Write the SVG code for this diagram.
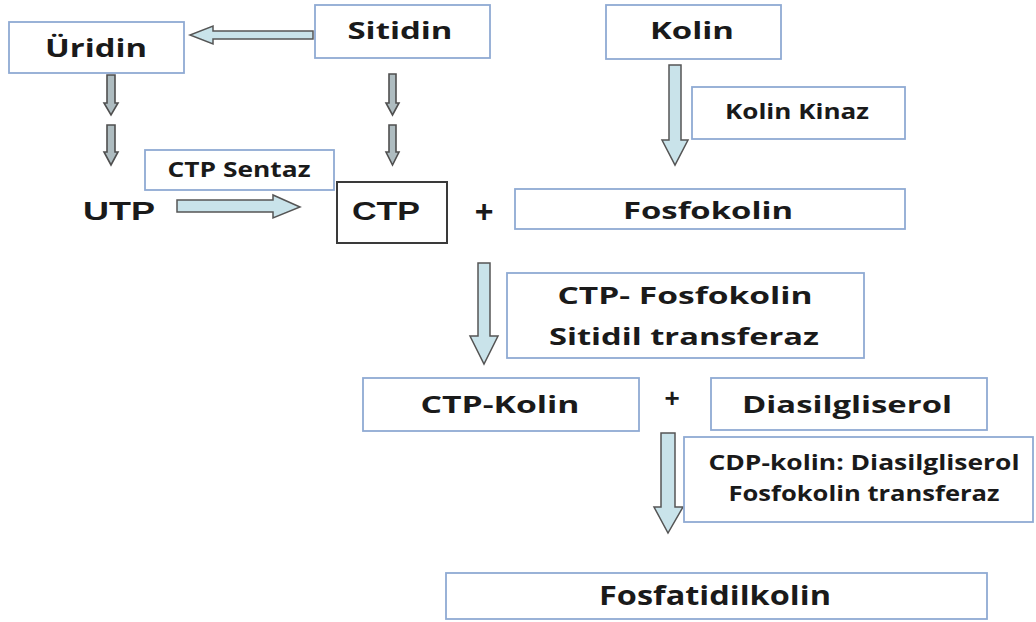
<svg xmlns="http://www.w3.org/2000/svg" width="1036" height="622" viewBox="0 0 1036 622">
<style>
.box{fill:#fff;stroke:#8faad3;stroke-width:1.8}
.ctpbox{fill:#fff;stroke:#3a3a3a;stroke-width:2}
.t{font-family:"Open Sans","Noto Sans",sans-serif;font-weight:700;fill:#1a1a1a;text-anchor:middle}
.a{font-family:"Liberation Sans",Arial,sans-serif;font-weight:700;fill:#1a1a1a;text-anchor:middle}
.arr{fill:#c9e3ea;stroke:#555;stroke-width:1.5;stroke-linejoin:miter}
.sarr{fill:#aebcc0;stroke:#4f4f4f;stroke-width:1.6}
</style>
<rect width="1036" height="622" fill="#fff"/>
<g id="connectors">
<path class="arr" d="M313,31 L213,31 L213,26 L190,35 L213,44 L213,39 L313,39 Z"/>
<path class="sarr" d="M107,75 L115,75 L115,103 L118,103 L111,115 L104,103 L107,103 Z"/>
<path class="sarr" d="M107,125 L115,125 L115,152 L118,152 L111,165 L104,152 L107,152 Z"/>
<path class="sarr" d="M389,74 L396,74 L396,103 L399,103 L392.5,115 L386,103 L389,103 Z"/>
<path class="sarr" d="M389,125 L396,125 L396,152 L399,152 L392.5,165 L386,152 L389,152 Z"/>
<path class="arr" d="M177,200 L273,200 L273,195 L300,207 L273,218 L273,212 L177,212 Z"/>
<path class="arr" d="M669,65 L681,65 L681,140 L688,140 L675,165 L662,140 L669,140 Z"/>
<path class="arr" d="M478,263 L490,263 L490,336 L498,336 L484,364 L470,336 L478,336 Z"/>
<path class="arr" d="M661,433 L675,433 L675,507 L683,507 L668,533 L654,507 L661,507 Z"/>
</g>
<g id="uridin"><rect class="box" x="9" y="22" width="175" height="51"/><text class="t" x="96" y="57" font-size="25" textLength="102" lengthAdjust="spacingAndGlyphs">Üridin</text></g>
<g id="sitidin"><rect class="box" x="315" y="5" width="175" height="53"/><text class="t" x="400" y="39" font-size="24" textLength="105" lengthAdjust="spacingAndGlyphs">Sitidin</text></g>
<g id="kolin"><rect class="box" x="606" y="5" width="175" height="54"/><text class="t" x="692" y="39" font-size="24" textLength="84" lengthAdjust="spacingAndGlyphs">Kolin</text></g>
<g id="kolin-kinaz"><rect class="box" x="692" y="87" width="213" height="52"/><text class="t" x="797" y="119" font-size="22" textLength="144" lengthAdjust="spacingAndGlyphs">Kolin Kinaz</text></g>
<g id="ctp-sentaz"><rect class="box" x="145" y="150" width="189" height="40"/><text class="t" x="239" y="177" font-size="21" textLength="143" lengthAdjust="spacingAndGlyphs">CTP Sentaz</text></g>
<g id="utp"><text class="a" x="119" y="220" font-size="25" textLength="72" lengthAdjust="spacingAndGlyphs">UTP</text></g>
<g id="ctp"><rect class="ctpbox" x="337" y="182" width="110" height="61"/><text class="a" x="386" y="220" font-size="25" textLength="68" lengthAdjust="spacingAndGlyphs">CTP</text></g>
<g id="plus1"><text class="a" x="484" y="222" font-size="32">+</text></g>
<g id="fosfokolin"><rect class="box" x="515" y="189" width="390" height="40"/><text class="t" x="708" y="219" font-size="24" textLength="170" lengthAdjust="spacingAndGlyphs">Fosfokolin</text></g>
<g id="ctp-fosfokolin-st"><rect class="box" x="507" y="273" width="357" height="85"/><text class="t" x="685" y="304" font-size="24" textLength="255" lengthAdjust="spacingAndGlyphs">CTP- Fosfokolin</text><text class="t" x="684" y="345" font-size="24" textLength="270" lengthAdjust="spacingAndGlyphs">Sitidil transferaz</text></g>
<g id="ctp-kolin"><rect class="box" x="363" y="378" width="276" height="53"/><text class="t" x="500" y="413" font-size="24" textLength="159" lengthAdjust="spacingAndGlyphs">CTP-Kolin</text></g>
<g id="plus2"><text class="a" x="672" y="407" font-size="26">+</text></g>
<g id="diasilgliserol"><rect class="box" x="711" y="378" width="276" height="52"/><text class="t" x="847" y="413" font-size="24" textLength="210" lengthAdjust="spacingAndGlyphs">Diasilgliserol</text></g>
<g id="cdp-kolin-enzyme"><rect class="box" x="684" y="437" width="349" height="85"/><text class="t" x="864" y="470" font-size="21" textLength="311" lengthAdjust="spacingAndGlyphs">CDP-kolin: Diasilgliserol</text><text class="t" x="864" y="501" font-size="21" textLength="271" lengthAdjust="spacingAndGlyphs">Fosfokolin transferaz</text></g>
<g id="fosfatidilkolin"><rect class="box" x="446" y="573" width="541" height="46"/><text class="t" x="715" y="605" font-size="27" textLength="232" lengthAdjust="spacingAndGlyphs">Fosfatidilkolin</text></g>
</svg>
